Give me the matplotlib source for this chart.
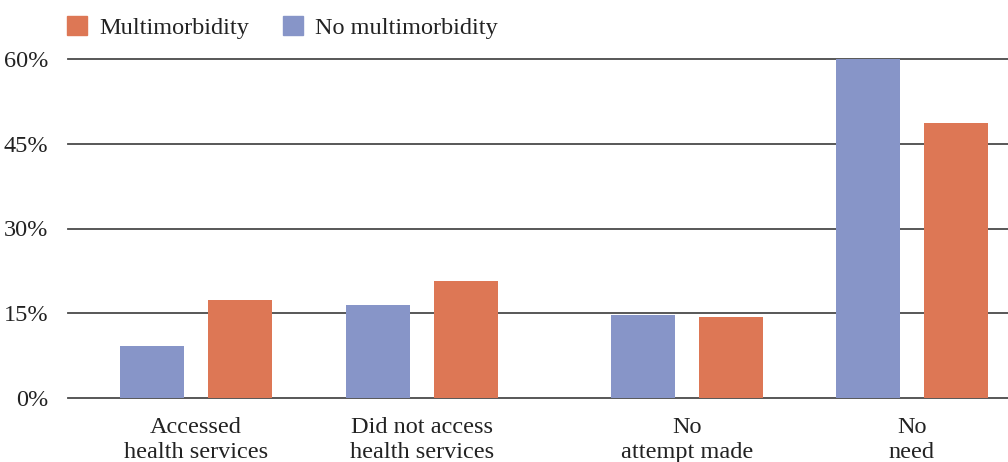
import matplotlib.pyplot as plt
from matplotlib.patches import Patch

categories = ["Accessed\nhealth services", "Did not access\nhealth services",
              "No\nattempt made", "No\nneed"]
no_multi = [9.2, 16.5, 14.7, 60.0]
multi = [17.3, 20.7, 14.3, 48.7]
yticks = [0, 15, 30, 45, 60]

orange = "#DD7755"
blue = "#8795C8"
grid_col = "#4a4a4a"

plt.rcParams["font.family"] = ["Liberation Serif", "DejaVu Serif"]
plt.rcParams["text.color"] = "#222222"
fs = 17.5

# group centres (the third group sits a little further out)
pos = [0, 1, 2.173, 3.168]
w = 0.283
off = 0.1947

fig = plt.figure(figsize=(10.08, 4.62), dpi=100)
ax = fig.add_axes([68 / 1008, 1 - 398 / 462, 1 - 68 / 1008, (398 - 59) / 462])

ax.bar([p - off for p in pos], no_multi, width=w, color=blue, zorder=3)
ax.bar([p + off for p in pos], multi, width=w, color=orange, zorder=3)

ax.set_xlim(-0.566, 3.593)
ax.set_ylim(0, 60)
ax.set_yticks(yticks)
ax.set_yticklabels([f"{t}%" for t in yticks], fontsize=fs, color="#222222")
ax.set_xticks(pos)
ax.set_xticklabels(categories, fontsize=fs, color="#222222", linespacing=1.25)
ax.tick_params(axis="y", length=0, pad=14)
ax.tick_params(axis="x", length=0, pad=14)

ax.grid(axis="y", color=grid_col, linewidth=1.3, clip_on=False)
ax.set_axisbelow(True)
for s in ax.spines.values():
    s.set_visible(False)

handles = [Patch(color=orange, label="Multimorbidity"),
           Patch(color=blue, label="No multimorbidity")]
fig.legend(handles=handles, loc="upper left", bbox_to_anchor=(67 / 1008, 1 - 16 / 462),
           ncol=2, frameon=False, fontsize=fs, handlelength=0.82, handleheight=0.82,
           handletextpad=0.5, columnspacing=1.4, borderpad=0, borderaxespad=0)

fig.savefig("out.png", dpi=100)
